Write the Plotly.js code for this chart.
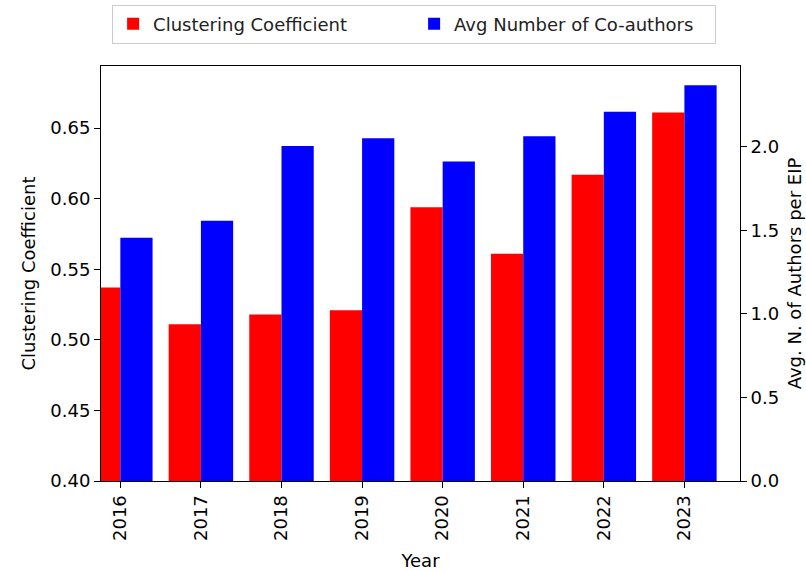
<!DOCTYPE html>
<html>
<head>
<meta charset="utf-8">
<script src="https://cdn.plot.ly/plotly-3.0.1.min.js"></script>
<style>html,body{margin:0;padding:0;background:#fff;}#chart{width:806px;height:571px;}</style>
</head>
<body>
<div id="chart"></div>
<script>
const years = ["2016", "2017", "2018", "2019", "2020", "2021", "2022", "2023"];
const clusteringCoefficient = [0.537, 0.511, 0.518, 0.521, 0.594, 0.561, 0.617, 0.661];
const avgCoauthors = [1.455, 1.557, 2.005, 2.050, 1.912, 2.063, 2.209, 2.368];
const leftTicks = [0.40, 0.45, 0.50, 0.55, 0.60, 0.65];
const rightTicks = [0.0, 0.5, 1.0, 1.5, 2.0];

const FONT = "DejaVu Sans, sans-serif";
const FS = 18;

const traces = [
  {
    type: "bar", name: "Clustering Coefficient",
    x: years, y: clusteringCoefficient, yaxis: "y",
    width: 0.4, offset: -0.4,
    marker: {color: "#ff0000", line: {width: 0}}
  },
  {
    type: "bar", name: "Avg Number of Co-authors",
    x: years, y: avgCoauthors, yaxis: "y2",
    width: 0.4, offset: 0,
    marker: {color: "#0000ff", line: {width: 0}}
  }
];

const layout = {
  width: 806, height: 571,
  margin: {l: 101, r: 66, t: 66, b: 90, pad: 0},
  paper_bgcolor: "#ffffff", plot_bgcolor: "#ffffff",
  font: {family: FONT, size: FS, color: "#000000"},
  barmode: "overlay",
  showlegend: true,
  legend: {
    orientation: "h", x: 0.49, xanchor: "center",
    yref: "container", y: 0.992, yanchor: "top",
    bgcolor: "#ffffff", bordercolor: "#cccccc", borderwidth: 1,
    font: {family: FONT, size: FS, color: "#222222"},
    entrywidth: 256, entrywidthmode: "pixels"
  },
  xaxis: {
    type: "category", range: [-0.24, 7.69],
    showline: true, linecolor: "#000000", linewidth: 1, mirror: true,
    ticks: "outside", ticklen: 6, tickcolor: "#000000",
    tickangle: -90, showgrid: false, zeroline: false,
    title: {text: "Year", standoff: 14, font: {family: FONT, size: FS}},
    automargin: false
  },
  yaxis: {
    range: [0.4, 0.694], tickvals: leftTicks, tickformat: ".2f",
    showline: true, linecolor: "#000000", linewidth: 1, mirror: true,
    ticks: "outside", ticklen: 6, tickcolor: "#000000",
    showgrid: false, zeroline: false,
    title: {text: "Clustering Coefficient", standoff: 10, font: {family: FONT, size: FS}},
    automargin: false
  },
  yaxis2: {
    overlaying: "y", side: "right",
    range: [0, 2.483], tickvals: rightTicks, tickformat: ".1f",
    showline: true, linecolor: "#000000", linewidth: 1,
    ticks: "outside", ticklen: 6, tickcolor: "#000000",
    showgrid: false, zeroline: false,
    title: {text: "Avg. N. of Authors per EIP", standoff: 10, font: {family: FONT, size: FS}},
    automargin: false
  }
};

Plotly.newPlot("chart", traces, layout, {staticPlot: true, displayModeBar: false});
</script>
</body>
</html>
